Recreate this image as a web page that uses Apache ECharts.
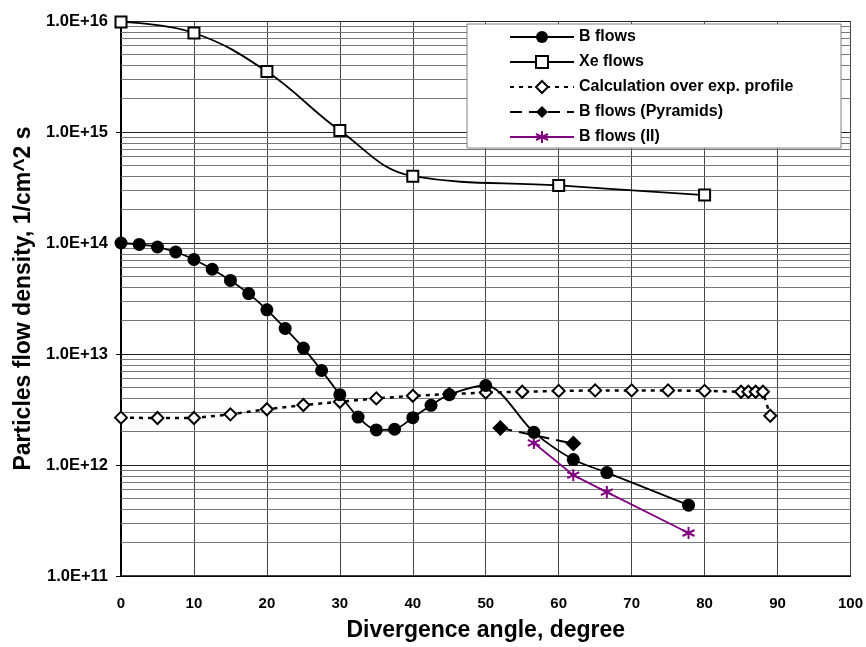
<!DOCTYPE html>
<html>
<head>
<meta charset="utf-8">
<script src="https://cdn.jsdelivr.net/npm/echarts@6/dist/echarts.min.js"></script>
<style>
  html, body { margin: 0; padding: 0; background: #fff; }
  #main { width: 866px; height: 647px; }
</style>
</head>
<body>
<div id="main"></div>
<script>
// values
var bX = [0, 2.5, 5, 7.5, 10, 12.5, 15, 17.5, 20, 22.5, 25, 27.5, 30, 32.5, 35, 37.5, 40, 42.5, 45, 50, 56.6, 62, 66.6, 77.8];
var bY = [1.0e14, 9.7e13, 9.2e13, 8.3e13, 7.1e13, 5.8e13, 4.6e13, 3.5e13, 2.5e13, 1.7e13, 1.13e13, 7.1e12, 4.3e12, 2.7e12, 2.07e12, 2.1e12, 2.67e12, 3.45e12, 4.3e12, 5.2e12, 1.97e12, 1.12e12, 8.55e11, 4.35e11];

var xeX = [0, 10, 20, 30, 40, 60, 80];
var xeY = [9.8e15, 7.8e15, 3.5e15, 1.03e15, 4.0e14, 3.3e14, 2.7e14];

var calcX = [0, 5, 10, 15, 20, 25, 30, 35, 40, 45, 50, 55, 60, 65, 70, 75, 80, 85, 86, 87, 88, 89];
var calcY = [2.67e12, 2.65e12, 2.65e12, 2.86e12, 3.18e12, 3.47e12, 3.71e12, 3.98e12, 4.2e12, 4.35e12, 4.5e12, 4.57e12, 4.65e12, 4.7e12, 4.7e12, 4.7e12, 4.65e12, 4.57e12, 4.57e12, 4.57e12, 4.57e12, 2.78e12];

var pyrX = [52, 62];
var pyrY = [2.15e12, 1.56e12];

var iiX = [56.6, 62, 66.6, 77.8];
var iiY = [1.58e12, 8.1e11, 5.7e11, 2.44e11];

var seriesNames = ['B flows', 'Xe flows', 'Calculation over exp. profile', 'B flows (Pyramids)', 'B flows (II)'];

// log grid: decades and the 2..9 steps between them
var decades = [1e11, 1e12, 1e13, 1e14, 1e15];
var minorSteps = [2, 3, 4, 5, 6, 7, 8, 9];

function pairs(xs, ys) {
    return xs.map(function (x, i) { return [x, ys[i]]; });
}

var minorLines = [];
decades.forEach(function (d) {
    minorSteps.forEach(function (k) { minorLines.push({ yAxis: k * d }); });
});

var font = 'Arial, "Liberation Sans", sans-serif';
var asterisk = 'path://M5,0 L5,10 M0.7,2.5 L9.3,7.5 M9.3,2.5 L0.7,7.5';

var myChart = echarts.init(document.getElementById('main'));
var option = {
    animation: false,
    backgroundColor: '#fff',
    textStyle: { fontFamily: font },
    grid: { left: 121, right: 15, top: 21, bottom: 70 },
    graphic: [{
        type: 'rect',
        z: 10,
        shape: { x: 467, y: 24, width: 374, height: 124 },
        style: { fill: '#fff', stroke: '#808080', lineWidth: 1 }
    }],
    legend: {
        data: seriesNames,
        orient: 'vertical',
        left: 509,
        top: 29,
        padding: 0,
        z: 20,
        itemWidth: 64,
        itemHeight: 15,
        itemGap: 9,
        textStyle: { fontFamily: font, fontSize: 16, fontWeight: 'bold', color: '#000', lineHeight: 15 }
    },
    xAxis: {
        type: 'value',
        min: 0,
        max: 100,
        interval: 10,
        name: 'Divergence angle, degree',
        nameLocation: 'middle',
        nameGap: 43,
        nameTextStyle: { fontFamily: font, fontSize: 23, fontWeight: 'bold', color: '#000' },
        axisLine: { lineStyle: { color: '#000', width: 1.5 } },
        axisTick: { show: false },
        axisLabel: { margin: 20, fontFamily: font, fontSize: 15, fontWeight: 'bold', color: '#000' },
        splitLine: { show: true, lineStyle: { color: '#444', width: 1 } }
    },
    yAxis: {
        type: 'log',
        logBase: 10,
        min: 1e11,
        max: 1e16,
        name: 'Particles flow density, 1/cm^2 s',
        nameLocation: 'middle',
        nameGap: 79,
        nameTextStyle: { fontFamily: font, fontSize: 23, fontWeight: 'bold', color: '#000' },
        axisLine: { show: true, lineStyle: { color: '#000', width: 2 } },
        axisTick: { show: true, inside: false, length: 5, lineStyle: { color: '#000' } },
        axisLabel: {
            margin: 13,
            fontFamily: font, fontSize: 16.5, fontWeight: 'bold', color: '#000',
            formatter: function (v) { return '1.0E+' + Math.round(Math.log10(v)); }
        },
        splitLine: { show: true, lineStyle: { color: '#222', width: 1 } }
    },
    series: [
        {
            name: 'grid-minor',
            type: 'line',
            data: [],
            z: 1,
            silent: true,
            markLine: {
                z: 1,
                silent: true,
                symbol: ['none', 'none'],
                label: { show: false },
                lineStyle: { color: '#777', type: 'solid', width: 1 },
                data: minorLines
            }
        },
        {
            name: 'B flows',
            type: 'line',
            z: 8,
            data: pairs(bX, bY),
            smooth: 0.3,
            symbol: 'circle',
            symbolSize: 13,
            lineStyle: { color: '#000', width: 1.8 },
            itemStyle: { color: '#000' }
        },
        {
            name: 'Xe flows',
            type: 'line',
            z: 7,
            data: pairs(xeX, xeY),
            smooth: 0.4,
            symbol: 'rect',
            symbolSize: 11,
            lineStyle: { color: '#000', width: 1.8 },
            itemStyle: { color: '#fff', borderColor: '#000', borderWidth: 2 }
        },
        {
            name: 'Calculation over exp. profile',
            type: 'line',
            z: 4,
            data: pairs(calcX, calcY),
            symbol: 'diamond',
            symbolSize: 12,
            lineStyle: { color: '#000', width: 2.5, type: [4, 5] },
            itemStyle: { color: '#fff', borderColor: '#000', borderWidth: 2 }
        },
        {
            name: 'B flows (Pyramids)',
            type: 'line',
            z: 5,
            data: pairs(pyrX, pyrY),
            symbol: 'diamond',
            symbolSize: 16,
            lineStyle: { color: '#000', width: 2, type: [12, 7] },
            itemStyle: { color: '#000' }
        },
        {
            name: 'B flows (II)',
            type: 'line',
            z: 6,
            data: pairs(iiX, iiY),
            symbol: asterisk,
            symbolSize: 12,
            lineStyle: { color: '#800080', width: 1.8 },
            itemStyle: { color: '#800080', borderColor: '#800080', borderWidth: 2 }
        }
    ]
};
myChart.setOption(option);
</script>
</body>
</html>
